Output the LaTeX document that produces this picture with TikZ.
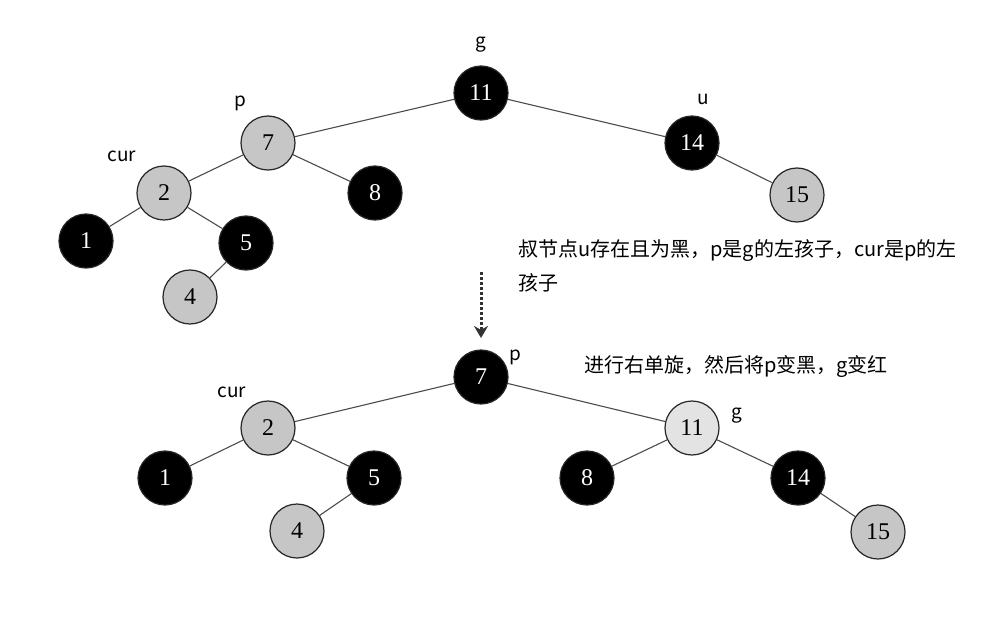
\documentclass[tikz,border=0pt]{standalone}
\usepackage{fontspec}
\setmainfont{Liberation Serif}
\newfontfamily\cjk{Noto Sans CJK SC}
\usetikzlibrary{arrows.meta,positioning}

\begin{document}
\begin{tikzpicture}[
  x=1pt, y=-1pt,
  every node/.style={font=\fontsize{24}{26}\selectfont},
  rb/.style={circle, draw=black!85, line width=1.2pt, minimum size=54pt, inner sep=0pt},
  blk/.style={rb, fill=black, text=white},
  gry/.style={rb, fill=gray!45},
  lgt/.style={rb, fill=gray!22},
  edge/.style={draw=black!70, line width=1.1pt},
  tag/.style={font=\cjk\fontsize{19}{22}\selectfont, inner sep=0pt},
  note/.style={font=\cjk\fontsize{20}{34}\selectfont, align=left, inner sep=0pt, anchor=north west},
  turn/.style={-{Stealth[length=12pt,width=14pt]}, dash pattern=on 2.5pt off 2.5pt, line width=3pt, black!80}
]
  \useasboundingbox (0,0) rectangle (996,618);

  % Before: u black, p left of g, cur left of p
  \node[blk] (g11) at (481,93) {11};
  \node[gry] (p7) at (268,143) {7};
  \node[blk] (u14) at (692,143) {14};
  \node[gry] (c2) at (164,193) {2};
  \node[blk] (n8) at (375,193) {8};
  \node[gry] (n15) at (797,195) {15};
  \node[blk] (n1) at (86,241) {1};
  \node[blk] (n5) at (246,243) {5};
  \node[gry] (n4) at (190,297) {4};

  \draw[edge] (g11) -- (p7);
  \draw[edge] (g11) -- (u14);
  \draw[edge] (p7) -- (c2);
  \draw[edge] (p7) -- (n8);
  \draw[edge] (u14) -- (n15);
  \draw[edge] (c2) -- (n1);
  \draw[edge] (c2) -- (n5);
  \draw[edge] (n5) -- (n4);

  \node[tag] (tg) at (481,45) {g};
  \node[tag] (tp) at (240,103) {p};
  \node[tag] (tu) at (703,99) {u};
  \node[tag] (tc) at (122,156) {cur};

  \node[note] (why) at (518,239) {叔节点u存在且为黑，p是g的左孩子，cur是p的左\\孩子};

  % Rotation arrow
  \coordinate (arrS) at (481,272);
  \coordinate (arrE) at (481,338);
  \draw[turn] (arrS) -- (arrE);

  % After: right rotation, recolour
  \node[blk] (q7) at (481,377) {7};
  \node[gry] (d2) at (268,428) {2};
  \node[lgt] (h11) at (692,428) {11};
  \node[blk] (m1) at (165,478) {1};
  \node[blk] (m5) at (374,478) {5};
  \node[blk] (m8) at (587,478) {8};
  \node[blk] (m14) at (798,478) {14};
  \node[gry] (m4) at (297,531) {4};
  \node[gry] (m15) at (878,532) {15};

  \draw[edge] (q7) -- (d2);
  \draw[edge] (q7) -- (h11);
  \draw[edge] (d2) -- (m1);
  \draw[edge] (d2) -- (m5);
  \draw[edge] (m5) -- (m4);
  \draw[edge] (h11) -- (m8);
  \draw[edge] (h11) -- (m14);
  \draw[edge] (m14) -- (m15);

  \node[tag] (sp) at (515,357) {p};
  \node[tag] (sc) at (232,392) {cur};
  \node[tag] (sg) at (737,416) {g};

  \node[note, anchor=west] (how) at (584,367) {进行右单旋，然后将p变黑，g变红};
\end{tikzpicture}
\end{document}
